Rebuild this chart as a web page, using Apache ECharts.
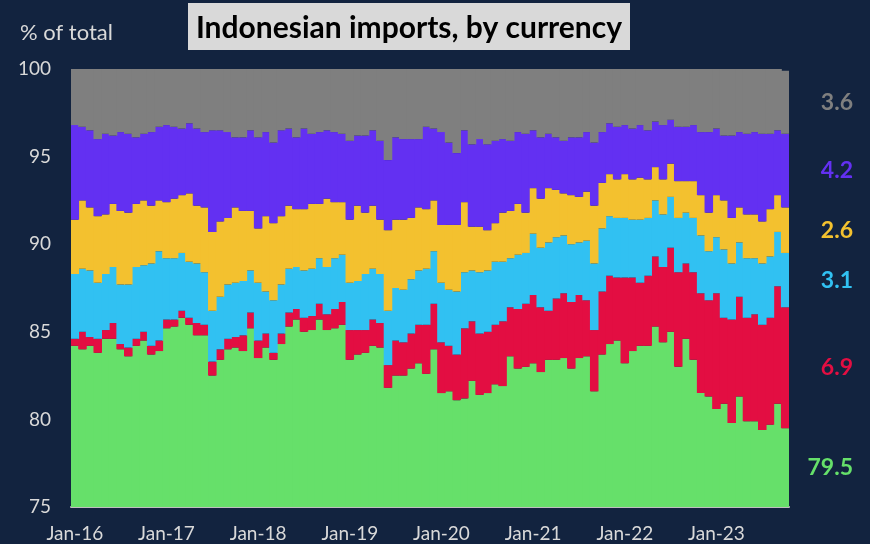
<!DOCTYPE html>
<html>
<head>
<meta charset="utf-8">
<script src="https://cdn.jsdelivr.net/npm/echarts@6/dist/echarts.min.js"></script>
<style>
  html, body { margin: 0; padding: 0; background: #12233f; }
  #chart { width: 870px; height: 544px; }
</style>
</head>
<body>
<div id="chart"></div>
<script>
// Monthly categories, Jan-16 .. Oct-23
const monthNames = ['Jan','Feb','Mar','Apr','May','Jun','Jul','Aug','Sep','Oct','Nov','Dec'];
const months = [];
for (let y = 16; y <= 23; y++) {
  for (let m = 0; m < 12; m++) {
    if (y === 23 && m > 9) break;
    months.push(monthNames[m] + '-' + y);
  }
}

const yTicks = [75, 80, 85, 90, 95, 100];

// Currency shares, % of total imports (stacked bottom to top)
const greenShare = [
  84.2, 84.0, 84.2, 83.8, 84.6, 84.6, 84.0, 83.6, 84.2, 84.5, 83.7, 83.9,
  85.2, 85.3, 85.8, 85.4, 84.8, 84.8, 82.5, 83.4, 84.0, 84.1, 83.9, 85.2,
  83.5, 84.1, 83.4, 84.3, 85.3, 85.7, 85.0, 85.1, 85.7, 85.1, 85.2, 85.4,
  83.4, 83.7, 83.8, 84.2, 84.1, 81.8, 82.5, 82.5, 82.9, 83.2, 82.6, 84.0,
  81.5, 81.6, 81.1, 81.2, 82.2, 81.4, 81.5, 82.0, 81.9, 83.6, 82.9, 83.0,
  83.2, 82.7, 83.4, 83.4, 83.5, 82.9, 83.5, 83.6, 81.6, 83.7, 84.3, 84.5,
  83.2, 83.9, 84.2, 84.2, 85.3, 84.4, 85.0, 83.0, 84.6, 83.4, 81.5, 81.3,
  80.6, 80.9, 79.8, 81.3, 79.9, 79.9, 79.4, 79.7, 80.9, 79.5
];
const redShare = [
  0.4, 1.0, 0.5, 0.8, 0.5, 0.9, 0.3, 0.5, 0.4, 0.5, 0.5, 0.6,
  0.5, 0.4, 0.4, 0.4, 0.7, 0.6, 0.8, 0.6, 0.6, 0.6, 0.9, 0.9,
  1.0, 0.8, 0.4, 0.6, 0.8, 0.6, 0.8, 0.8, 0.9, 0.9, 1.1, 1.3,
  1.7, 1.4, 1.3, 1.5, 1.4, 1.3, 2.0, 1.9, 2.0, 2.2, 2.8, 2.6,
  2.9, 2.6, 2.6, 4.0, 3.4, 3.5, 3.5, 3.4, 3.7, 2.8, 3.4, 3.6,
  3.9, 3.7, 2.8, 3.5, 3.7, 3.8, 3.6, 3.2, 3.5, 3.6, 3.9, 3.6,
  4.9, 4.2, 3.6, 4.0, 4.0, 4.3, 4.8, 5.4, 4.3, 5.0, 5.7, 5.5,
  6.6, 4.9, 5.9, 5.7, 5.9, 6.1, 6.0, 6.1, 6.7, 6.9
];
const cyanShare = [
  3.7, 3.6, 3.8, 3.2, 3.2, 3.2, 3.4, 3.6, 4.1, 3.8, 4.7, 5.1,
  3.5, 3.5, 3.3, 3.2, 3.4, 3.0, 2.9, 3.0, 3.1, 3.1, 3.1, 2.4,
  3.3, 2.4, 3.0, 2.8, 2.5, 2.4, 2.7, 2.7, 2.6, 2.7, 2.9, 2.7,
  2.7, 2.8, 3.2, 2.9, 2.8, 3.1, 3.0, 3.0, 3.1, 3.1, 3.2, 3.0,
  3.4, 3.2, 3.6, 3.2, 2.9, 3.5, 3.5, 3.6, 3.4, 2.8, 3.1, 2.9,
  3.5, 3.4, 3.9, 3.5, 3.3, 3.3, 3.0, 3.4, 3.8, 3.6, 3.4, 3.4,
  3.4, 3.3, 3.6, 3.3, 3.2, 3.0, 2.9, 3.1, 2.9, 3.1, 3.3, 2.8,
  3.2, 3.9, 3.2, 3.1, 3.4, 3.2, 3.5, 3.5, 3.1, 3.1
];
const yellowShare = [
  3.1, 3.9, 3.6, 3.8, 3.4, 3.6, 4.2, 4.1, 3.6, 3.7, 3.3, 2.9,
  3.2, 3.4, 3.3, 3.9, 3.3, 3.7, 4.5, 4.3, 3.8, 4.3, 4.0, 3.4,
  3.1, 4.3, 4.4, 3.9, 3.6, 3.3, 3.5, 3.7, 3.1, 3.9, 3.2, 3.0,
  3.6, 4.3, 3.5, 3.6, 3.1, 4.6, 3.9, 4.0, 3.5, 3.6, 3.4, 2.9,
  3.3, 3.7, 3.8, 4.0, 2.5, 2.6, 2.3, 2.2, 2.8, 2.7, 2.9, 2.3,
  2.6, 2.8, 3.1, 2.7, 2.4, 2.8, 2.6, 2.8, 3.3, 2.6, 2.4, 2.2,
  2.5, 2.3, 2.4, 2.2, 1.9, 2.0, 1.9, 2.1, 1.8, 2.1, 2.3, 2.2,
  2.4, 2.8, 2.6, 2.0, 2.5, 2.5, 2.4, 2.7, 2.1, 2.6
];
const purpleShare = [
  5.4, 4.2, 4.4, 4.4, 4.6, 3.9, 4.5, 4.5, 3.8, 3.8, 4.2, 4.2,
  4.4, 4.1, 3.8, 4.0, 4.4, 4.3, 5.8, 5.2, 4.9, 4.0, 4.2, 4.6,
  5.2, 4.8, 4.6, 4.9, 4.4, 4.1, 4.6, 4.0, 4.1, 3.9, 4.0, 3.9,
  4.5, 4.0, 4.4, 4.3, 4.5, 4.0, 4.7, 4.6, 4.5, 3.9, 4.7, 4.1,
  5.3, 4.7, 4.1, 4.1, 4.7, 5.0, 4.9, 4.7, 4.2, 4.0, 4.1, 4.5,
  3.3, 3.5, 3.1, 3.0, 3.0, 3.3, 3.4, 3.4, 3.6, 2.9, 2.9, 3.0,
  2.8, 2.9, 3.0, 2.8, 2.6, 3.1, 2.5, 3.1, 3.1, 3.2, 3.6, 4.6,
  3.8, 3.7, 4.7, 4.3, 4.6, 4.7, 5.0, 4.3, 3.7, 4.2
];
const grayShare = [
  3.2, 3.3, 3.5, 4.0, 3.7, 3.8, 3.6, 3.7, 3.9, 3.7, 3.6, 3.3,
  3.2, 3.3, 3.4, 3.1, 3.4, 3.6, 3.5, 3.5, 3.6, 3.9, 3.9, 3.5,
  3.9, 3.6, 4.2, 3.5, 3.4, 3.9, 3.4, 3.7, 3.6, 3.5, 3.6, 3.7,
  4.1, 3.8, 3.8, 3.5, 4.1, 5.2, 3.9, 4.0, 4.0, 4.0, 3.3, 3.4,
  3.6, 4.2, 4.8, 3.5, 4.3, 4.0, 4.3, 4.1, 4.0, 4.1, 3.6, 3.7,
  3.5, 3.9, 3.7, 3.9, 4.1, 3.9, 3.9, 3.6, 4.2, 3.6, 3.1, 3.3,
  3.2, 3.4, 3.2, 3.5, 3.0, 3.2, 2.9, 3.3, 3.3, 3.2, 3.6, 3.6,
  3.4, 3.8, 3.8, 3.6, 3.7, 3.6, 3.7, 3.7, 3.5, 3.6
];

const bands = [
  { name: 'green',  data: greenShare,  color: '#66e06a' },
  { name: 'red',    data: redShare,    color: '#e30e42' },
  { name: 'cyan',   data: cyanShare,   color: '#31c1f2' },
  { name: 'yellow', data: yellowShare, color: '#f3c12f' },
  { name: 'purple', data: purpleShare, color: '#6330f2' },
  { name: 'gray',   data: grayShare,   color: '#7f7f7f' }
];

const textColor = '#d9d9d9';
const last = months.length - 1;

const series = bands.map(b => ({
  name: b.name,
  type: 'bar',
  stack: 'total',
  // columns slightly wider than their slot so neighbours overlap and no seams show
  barWidth: '112%',
  barGap: '-100%',
  itemStyle: { color: b.color },
  silent: true,
  data: b.data.map((v, i) => {
    if (i !== last) return v;
    // latest month's share printed beside the stack
    return {
      value: v,
      label: {
        show: true,
        position: 'right',
        distance: 64,
        align: 'right',
        formatter: v.toFixed(1),
        color: b.color,
        fontFamily: 'Lato',
        fontWeight: 'bold',
        fontSize: 23
      }
    };
  })
}));

const chart = echarts.init(document.getElementById('chart'), null, { renderer: 'canvas' });
chart.setOption({
  backgroundColor: '#12233f',
  animation: false,
  grid: { left: 71, right: 81, top: 69, bottom: 37, containLabel: false },
  xAxis: {
    type: 'category',
    data: months,
    boundaryGap: true,
    axisLine: { show: true, lineStyle: { color: '#bfbfbf', width: 2 } },
    axisTick: { show: false },
    axisLabel: {
      interval: 11,
      color: textColor,
      fontFamily: 'Lato',
      fontSize: 19,
      margin: 17
    },
    splitLine: { show: false }
  },
  yAxis: {
    type: 'value',
    min: yTicks[0],
    max: yTicks[yTicks.length - 1],
    interval: 5,
    axisLine: { show: false },
    axisTick: { show: false },
    splitLine: { show: false },
    axisLabel: {
      color: textColor,
      fontFamily: 'Lato',
      fontSize: 19,
      margin: 20
    }
  },
  graphic: [
    {
      type: 'text',
      left: 20,
      top: 22,
      style: { text: '% of total', fill: textColor, font: '22px Lato' }
    },
    {
      type: 'group',
      left: 188,
      top: 3,
      children: [
        { type: 'rect', shape: { x: 0, y: 0, width: 442, height: 47 }, style: { fill: '#d9d9d9' } },
        {
          type: 'text',
          x: 221, y: 25,
          style: {
            text: 'Indonesian imports, by currency',
            fill: '#000000',
            font: 'bold 30px Lato',
            textAlign: 'center',
            textVerticalAlign: 'middle'
          }
        }
      ]
    }
  ],
  series: series
});
</script>
</body>
</html>
